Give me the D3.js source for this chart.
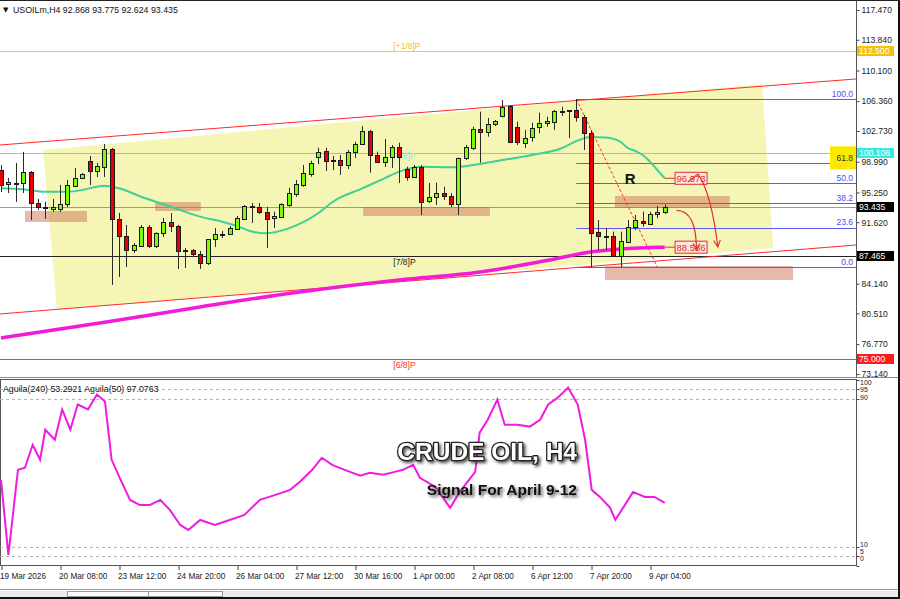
<!DOCTYPE html>
<html><head><meta charset="utf-8">
<script src="https://cdn.jsdelivr.net/npm/d3@7"></script>
<style>
html,body{margin:0;padding:0;background:#fff;}
svg{display:block;font-family:"Liberation Sans",Arial,sans-serif;}
</style></head><body>
<svg id="chart" width="900" height="599"></svg>
<script>
// ---------- DATA ----------
const tickIndex = [0,8,16,24,32,40,48,56,64,72,80,88];
const tickLabels = ["19 Mar 2026","20 Mar 08:00","23 Mar 12:00","24 Mar 20:00","26 Mar 04:00","27 Mar 12:00","30 Mar 16:00","1 Apr 00:00","2 Apr 08:00","6 Apr 12:00","7 Apr 20:00","9 Apr 04:00"];
const priceTicks = [117.470,113.840,110.100,106.360,102.730,98.990,95.250,91.620,84.140,80.510,76.770,73.140];

const opens  = [97.98,96.28,96.40,96.36,97.78,93.97,93.46,93.24,93.24,93.84,96.03,97.01,99.12,97.90,98.39,100.54,92.02,89.95,88.24,88.76,91.04,88.76,90.31,91.65,91.20,88.24,88.24,87.75,86.66,89.58,90.13,90.19,90.80,92.02,93.48,93.51,92.91,92.14,92.26,93.72,95.06,96.16,97.50,99.57,100.33,99.20,99.20,98.59,100.18,101.15,102.77,99.81,99.00,99.60,100.82,98.11,97.09,98.39,94.21,94.73,95.18,94.82,93.81,99.45,100.63,102.98,102.65,103.59,104.56,105.78,103.22,101.31,102.04,103.18,103.67,103.87,105.13,105.17,105.29,104.48,102.53,90.47,90.00,89.98,87.51,89.25,91.08,91.81,91.41,92.63,92.868];
const highs  = [98.59,97.01,98.84,100.18,97.86,94.45,94.12,94.45,96.16,96.77,98.23,97.62,99.69,98.84,101.15,100.66,92.75,91.29,89.09,91.29,91.29,90.40,92.14,92.75,91.29,88.48,88.36,88.12,89.58,90.92,90.55,91.16,92.38,93.72,93.96,93.96,93.51,92.91,93.93,95.83,96.77,98.59,99.12,100.70,100.70,99.69,99.81,100.42,101.43,103.34,102.86,100.21,101.76,101.03,101.31,98.39,98.59,98.59,96.40,96.44,95.95,95.18,99.48,101.03,103.26,105.09,104.32,104.07,106.51,105.90,103.87,102.86,103.74,104.96,104.48,105.29,105.69,105.29,106.63,104.68,102.86,91.89,90.92,90.47,90.47,91.89,92.50,92.91,92.91,93.60,93.775];
const lows   = [95.30,95.18,94.09,95.18,91.89,93.11,92.02,92.87,92.87,93.48,95.91,96.89,96.16,97.13,97.13,83.98,84.95,86.17,87.87,88.61,88.48,88.48,89.82,90.43,85.93,86.05,87.39,85.93,86.41,88.61,89.70,90.07,90.68,91.89,91.53,92.63,88.48,90.92,92.14,93.51,94.73,95.95,97.17,98.71,97.86,97.98,97.38,98.11,99.45,101.03,97.65,98.84,98.35,98.23,96.40,96.68,97.01,92.50,93.96,93.72,94.33,93.48,92.50,99.20,100.42,98.87,102.04,103.34,104.40,101.27,101.03,100.66,101.43,102.45,103.26,102.86,104.56,101.88,103.87,100.42,86.13,88.24,88.24,87.42,86.13,89.06,90.68,91.08,91.29,92.10,92.624];
const closes = [96.16,96.56,96.46,97.78,93.93,93.48,93.42,93.42,93.84,96.16,97.01,97.50,97.90,98.47,100.54,92.02,89.95,88.24,88.85,91.04,88.76,90.31,91.65,91.20,88.12,88.18,87.75,86.66,89.58,90.19,90.21,90.92,92.14,93.60,93.60,92.91,92.02,92.38,93.84,95.18,96.28,97.62,98.84,100.18,99.12,99.14,98.59,100.18,101.15,102.77,99.81,99.00,99.60,100.82,99.60,97.09,98.39,94.12,94.68,95.18,94.82,93.84,99.48,100.79,102.98,102.65,103.59,103.95,105.69,101.43,101.36,101.92,103.14,103.67,103.95,105.17,105.21,105.23,104.48,102.53,90.35,89.98,89.95,87.51,89.37,91.08,91.89,91.49,92.63,92.83,93.435];

const ma50Idx  = [0,3,6,9,11,13,14,16,19,21,24,27,30,32,34,36,39,43,45,49,52,54,57,61,64,68,72,76,78,80,82,84,85,86,87,88,89,90];
const ma50Vals = [95.75,95.63,95.34,95.34,95.55,95.95,96.07,95.75,94.73,94.12,93.20,92.30,91.69,91.16,90.50,90.29,90.88,92.71,94.12,95.75,96.97,97.78,98.39,98.31,98.59,99.20,99.81,100.63,101.50,102.00,101.94,101.40,100.66,100.30,99.81,98.99,97.98,96.973];
const ma240Idx  = [0,13.4,27,40.5,54,65,74.4,79.9,84,90];
const ma240Vals = [77.52,79.35,81.30,83.13,84.59,85.56,87.02,88.00,88.37,88.586];

const oscIdx  = [0,1,2.3,3.25,4.3,5.3,6,7.3,8.3,9.4,10.4,11.8,13,14.1,15,16.1,17.5,18.8,20.2,21.6,22.9,24.3,25.4,27,29,31,33,35.1,37.2,39.2,40.5,42.2,43.5,44.9,46.6,48.7,50,51.8,53.4,54.5,55.9,56.8,58.9,60.9,62.2,64.3,64.9,66,67.3,68.3,70,71.7,73.1,74.2,75.5,76.9,78.2,79.2,80.1,81.2,82.6,83.3,84.6,85.7,87.3,88.6,90];
const oscVals = [46.2,5.7,51.6,52.7,65.1,57.0,73.2,67.8,84.1,73.2,86.8,84.1,92.2,88.4,57.0,47.3,35.4,32.7,32.7,35.4,30.0,21.9,19.2,24.6,21.9,24.6,27.3,35.4,38.1,40.8,45.1,51.6,58.1,54.3,51.6,48.4,50.0,48.9,50.5,51.6,54.3,47.3,42.4,31.1,39.7,50.5,71.6,78.6,89.5,75.9,75.9,74.9,78.6,86.8,90.5,95.9,86.8,67.8,40.8,37.0,31.1,24.6,32.7,39.7,37.0,37.0,33.8];
const oscLevels = [95,90,10,5];
const oscAxisLabels = ["100","95","90","10","5","0"];
const oscAxisValues = [100,95,90,10,5,0];

const mmLabels = ["[+1/8]P","[8/8]P","[7/8]P","[6/8]P"];
const mmValues = [112.5,100.106,87.465,75.0];
const bidPrice = 93.435;

const fibLevels = [0,23.6,38.2,50.0,61.8,100.0];
const fibHigh = 106.63, fibLow = 86.13, fibStartIdx = 78, fibEndIdx = 89;

const channelUpper = [-0.14,101.03,115.93,109.07];
const channelLower = [-0.14,80.45,115.93,88.85];
const channelFill = [[5.7,100.42],[103.2,108.46],[104.7,88.48],[7.6,80.94]];
const zones = [[3.25,11.66,92.99,91.65],[20.9,27.1,94.09,92.99],[49.1,66.3,93.48,92.38],[83.25,98.8,94.82,93.36],[81.9,107.4,86.29,84.59]];

const headerText = "USOILm,H4  92.868 93.775 92.624 93.435";
const oscHeader = "Aguila(240) 53.2921  Aguila(50) 97.0763";
const titleText = "CRUDE OIL, H4";
const subtitleText = "Signal For April 9-12";

// ---------- SCALES ----------
const svg = d3.select("#chart");
const x = d3.scaleLinear().domain([0,116]).range([1,856.5]);
const y = d3.scaleLinear().domain([72.65,118.688]).range([378,0]);
const yo = d3.scaleLinear().domain([0,100]).range([565.6,380]);
const px = v => Math.round(v)+0.5;

const defs = svg.append("defs");
defs.append("clipPath").attr("id","clipMain").append("rect").attr("x",0).attr("y",1).attr("width",856).attr("height",376);
defs.append("clipPath").attr("id","clipOsc").append("rect").attr("x",0).attr("y",379).attr("width",856).attr("height",187);
const mk = defs.append("marker").attr("id","arrow").attr("viewBox","0 0 10 10").attr("refX",9).attr("refY",5)
  .attr("markerWidth",7).attr("markerHeight",7).attr("orient","auto-start-reverse");
mk.append("path").attr("d","M1,1 L9,5 L1,9").attr("fill","none").attr("stroke","#e03030").attr("stroke-width",1.4);
const sh = defs.append("filter").attr("id","shadow").attr("x","-10%").attr("y","-30%").attr("width","130%").attr("height","170%");
sh.append("feDropShadow").attr("dx",2).attr("dy",2).attr("stdDeviation",1.4).attr("flood-color","#222").attr("flood-opacity",0.75);

svg.append("rect").attr("width",900).attr("height",599).attr("fill","#fff");

const main = svg.append("g").attr("clip-path","url(#clipMain)");

// channel yellow fill
main.append("path")
  .attr("d", d3.line().x(d=>x(d[0])).y(d=>y(d[1]))(channelFill)+"Z")
  .attr("fill","#f5f6b6");

// horizontal Murrey lines
const mmColors = ["#f2c94c","#4de8d4","#222","#ff3b3b"];
const mmTextColors = ["#f2c200","#7ff0e0","#222","#ff2a2a"];
mmValues.forEach((v,k)=>{
  main.append("line").attr("x1",0).attr("x2",856).attr("y1",px(y(v))).attr("y2",px(y(v)))
    .attr("stroke",mmColors[k]).attr("stroke-width",1);
});
// bid line
main.append("line").attr("x1",0).attr("x2",856).attr("y1",px(y(bidPrice))).attr("y2",px(y(bidPrice)))
  .attr("stroke","#9a9a9a").attr("stroke-width",1);

// zones
zones.forEach(z=>{
  main.append("rect").attr("x",x(z[0])).attr("width",x(z[1])-x(z[0]))
    .attr("y",y(z[2])).attr("height",y(z[3])-y(z[2]))
    .attr("fill","rgba(200,100,70,0.45)");
});

// fib lines
const fibPrice = l => fibLow + (fibHigh-fibLow)*l/100;
fibLevels.forEach(l=>{
  const yy = px(y(fibPrice(l)));
  main.append("line").attr("x1",x(fibStartIdx)).attr("x2",856).attr("y1",yy).attr("y2",yy)
    .attr("stroke","#5c5cf0").attr("stroke-width",1);
});
// 61.8 highlight box
main.append("rect").attr("x",830).attr("y",y(fibPrice(61.8))-17).attr("width",28).attr("height",23).attr("fill","#fbea00");
fibLevels.forEach(l=>{
  const yy = y(fibPrice(l));
  main.append("text").attr("x",853).attr("y",yy-2.5).attr("text-anchor","end")
    .attr("font-size",8.5).attr("fill", l===61.8 ? "#333" : "#4d4df0").text(l.toFixed(1));
});

// channel lines
[channelUpper,channelLower].forEach(c=>{
  main.append("line").attr("x1",x(c[0])).attr("y1",y(c[1])).attr("x2",x(c[2])).attr("y2",y(c[3]))
    .attr("stroke","#ff2a2a").attr("stroke-width",1);
});

// Murrey text labels
const mmTextY = [-2, 6, 9, 9];
mmValues.forEach((v,k)=>{
  main.append("text").attr("x",x(53.2)).attr("y",y(v)+mmTextY[k]).attr("font-size",8.5)
    .attr("fill",mmTextColors[k]).text(mmLabels[k]);
});

// fib dashed trend line
main.append("line").attr("x1",x(fibStartIdx)).attr("y1",y(fibHigh)).attr("x2",x(fibEndIdx)).attr("y2",y(fibLow))
  .attr("stroke","#ff3030").attr("stroke-width",1).attr("stroke-dasharray","3,2");

// MAs
const lineGen = d3.line().curve(d3.curveMonotoneX);
main.append("path").attr("d", lineGen(ma240Idx.map((d,k)=>[x(d),y(ma240Vals[k])])))
  .attr("fill","none").attr("stroke","#f21bd8").attr("stroke-width",3.5);
main.append("path").attr("d", lineGen(ma50Idx.map((d,k)=>[x(d),y(ma50Vals[k])])))
  .attr("fill","none").attr("stroke","#3fcf97").attr("stroke-width",2);

// candles
const bars = d3.range(opens.length).map(i=>({i,o:opens[i],h:highs[i],l:lows[i],c:closes[i]}));
const cg = main.append("g");
cg.selectAll("line").data(bars).join("line")
  .attr("x1",d=>px(x(d.i))).attr("x2",d=>px(x(d.i)))
  .attr("y1",d=>y(d.h)).attr("y2",d=>y(d.l))
  .attr("stroke","#2a2a2a").attr("stroke-width",1);
cg.selectAll("rect").data(bars).join("rect")
  .attr("x",d=>Math.round(x(d.i))-1.5).attr("width",4)
  .attr("y",d=>Math.round(y(Math.max(d.o,d.c)))+0.5)
  .attr("height",d=>Math.max(1,Math.round(y(Math.min(d.o,d.c)))-Math.round(y(Math.max(d.o,d.c)))))
  .attr("fill",d=>d.c>=d.o ? "#7cfc00" : "#e80000")
  .attr("stroke","#1a1a1a").attr("stroke-width",1);

// price labels at MA ends
const lastI = opens.length-1;
[[ma50Vals[ma50Vals.length-1],"96.973"],[ma240Vals[ma240Vals.length-1],"88.586"]].forEach(([v,t])=>{
  const yy = y(v);
  main.append("line").attr("x1",x(lastI)).attr("x2",x(lastI+1.4)).attr("y1",yy).attr("y2",yy).attr("stroke","#e03030");
  main.append("rect").attr("x",x(lastI+1.4)).attr("y",yy-6).attr("width",32).attr("height",12)
    .attr("fill","#fde6df").attr("stroke","#e03030").attr("stroke-width",1);
  main.append("text").attr("x",x(lastI+1.4)+16).attr("y",yy+3.5).attr("text-anchor","middle")
    .attr("font-size",9.5).attr("fill","#e03030").text(t);
});

// R label
main.append("text").attr("x",x(85.3)).attr("y",y(96.3)).attr("text-anchor","middle")
  .attr("font-size",15).attr("font-weight","bold").attr("fill","#111").text("R");

// arrows
const arrow1a = [[93.15,96.52],[94.5,97.5]];
const arrow1b = [[94.5,97.5],[96.3,95.2],[97.2,88.61]];
const arrow2  = [[91.6,93.07],[94.3,93.07],[94.3,88.2]];
main.append("path").attr("d",`M${x(arrow1a[0][0])},${y(arrow1a[0][1])} L${x(arrow1a[1][0])},${y(arrow1a[1][1])}`)
  .attr("stroke","#e03030").attr("fill","none").attr("stroke-width",1.2);
main.append("path").attr("d",`M${x(arrow1b[0][0])},${y(arrow1b[0][1])} Q${x(arrow1b[1][0])},${y(arrow1b[1][1])} ${x(arrow1b[2][0])},${y(arrow1b[2][1])}`)
  .attr("stroke","#e03030").attr("fill","none").attr("stroke-width",1.2).attr("marker-end","url(#arrow)");
main.append("path").attr("d",`M${x(arrow2[0][0])},${y(arrow2[0][1])} Q${x(arrow2[1][0])},${y(arrow2[1][1])} ${x(arrow2[2][0])},${y(arrow2[2][1])}`)
  .attr("stroke","#e03030").attr("fill","none").attr("stroke-width",1.2).attr("marker-end","url(#arrow)");

// header
svg.append("text").attr("x",3).attr("y",12).attr("font-size",7).attr("font-family","DejaVu Sans").attr("fill","#111").text("▼");
svg.append("text").attr("x",13).attr("y",12.5).attr("font-size",8.8).attr("fill","#111").text(headerText);

// frames
svg.append("line").attr("x1",856.5).attr("x2",856.5).attr("y1",0).attr("y2",377).attr("stroke","#555");
svg.append("line").attr("x1",0).attr("x2",900).attr("y1",377.5).attr("y2",377.5).attr("stroke","#888");
svg.append("rect").attr("x",0.5).attr("y",379.5).attr("width",856).attr("height",186).attr("fill","none").attr("stroke","#555");

// right price axis
const yAxis = d3.axisRight(y).tickValues(priceTicks).tickFormat(d3.format(".3f")).tickSize(3).tickPadding(2);
const ya = svg.append("g").attr("transform","translate(856.5,0)").call(yAxis);
ya.select(".domain").remove();
ya.selectAll("text").attr("font-size",8.6).attr("fill","#222").attr("font-family","Liberation Sans");
ya.selectAll("line").attr("stroke","#444");

// colored value boxes
const boxVals = [112.5,100.106,bidPrice,87.465,75.0];
const boxColors = ["#f4c10f","#35ebe0","#000","#000","#ff1a1a"];
boxVals.forEach((v,k)=>{
  const yy = Math.round(y(v));
  svg.append("rect").attr("x",857).attr("y",yy-5).attr("width",37).attr("height",10).attr("fill",boxColors[k]);
  svg.append("text").attr("x",859).attr("y",yy+3.3).attr("font-size",8.6).attr("fill","#fff").text(v.toFixed(3));
});

// oscillator
const osc = svg.append("g").attr("clip-path","url(#clipOsc)");
oscLevels.forEach(l=>{
  osc.append("line").attr("x1",0).attr("x2",856).attr("y1",px(yo(l))).attr("y2",px(yo(l)))
    .attr("stroke","#b5b5b5").attr("stroke-dasharray","3,3");
});
osc.append("path").attr("d", d3.line()(oscIdx.map((d,k)=>[x(d),yo(oscVals[k])])))
  .attr("fill","none").attr("stroke","#f01be0").attr("stroke-width",2);
svg.append("text").attr("x",3).attr("y",392).attr("font-size",8.8).attr("fill","#111").text(oscHeader);
const oscLabelY = [385, 392, 400, 547, 554, 561];
oscAxisValues.forEach((v,k)=>{
  svg.append("line").attr("x1",856.5).attr("x2",859.5).attr("y1",px(yo(v))).attr("y2",px(yo(v))).attr("stroke","#444");
  svg.append("text").attr("x",860).attr("y",oscLabelY[k]).attr("font-size",7).attr("fill","#222").text(oscAxisLabels[k]);
});

// title
const tg = svg.append("g").attr("filter","url(#shadow)");
tg.append("text").attr("x",577).attr("y",460).attr("text-anchor","end").attr("font-size",24.5).attr("font-weight","bold")
  .attr("fill","#fff").attr("stroke","#222").attr("stroke-width",2.6).attr("paint-order","stroke").attr("stroke-linejoin","round")
  .attr("font-family","Liberation Sans").text(titleText);
tg.append("text").attr("x",577).attr("y",495).attr("text-anchor","end").attr("font-size",15.5).attr("font-weight","bold")
  .attr("fill","#111").attr("font-family","Liberation Sans").text(subtitleText);

// x axis
const xAxis = d3.axisBottom(x).tickValues(tickIndex).tickFormat((d,k)=>tickLabels[k]).tickSize(4).tickPadding(3);
const xa = svg.append("g").attr("transform","translate(0,566)").call(xAxis);
xa.select(".domain").remove();
xa.selectAll("line").attr("stroke","#444").attr("transform","translate(0.5,0)");
xa.selectAll("text").attr("text-anchor","start").attr("dx",-1.5).attr("font-size",8.2).attr("fill","#222").attr("font-family","Liberation Sans");

// bottom window chrome
svg.append("line").attr("x1",0).attr("x2",900).attr("y1",589.5).attr("y2",589.5).attr("stroke","#9a9a9a");
svg.append("rect").attr("x",0).attr("y",591).attr("width",900).attr("height",6).attr("fill","#ececec");
[[67,148],[148,222]].forEach(t=>{
  svg.append("rect").attr("x",t[0]+0.5).attr("y",591.5).attr("width",t[1]-t[0]).attr("height",5).attr("fill","#fff").attr("stroke","#999");
});
svg.append("rect").attr("x",0).attr("y",597).attr("width",900).attr("height",2).attr("fill","#111");
svg.append("rect").attr("x",898).attr("y",0).attr("width",2).attr("height",599).attr("fill","#111");
svg.append("rect").attr("x",0).attr("y",0).attr("width",900).attr("height",1).attr("fill","#222");
</script></body></html>
